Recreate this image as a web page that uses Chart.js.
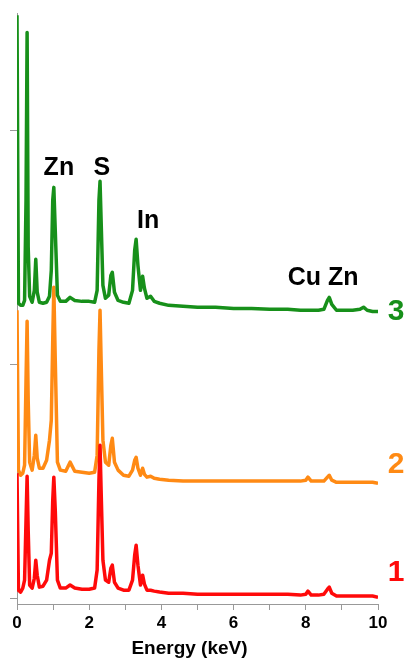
<!DOCTYPE html>
<html>
<head>
<meta charset="utf-8">
<script src="https://cdn.jsdelivr.net/npm/chart.js@4.4.0/dist/chart.umd.min.js"></script>
<style>
  html, body { margin: 0; padding: 0; background: #fff; }
  canvas { display: block; }
</style>
</head>
<body>
<canvas id="eds" width="408" height="660"></canvas>
<script>
// EDS spectra of three samples, stacked with a vertical offset (counts, a.u.)
const energy = [
  0, 0.04, 0.1, 0.16, 0.21, 0.25, 0.28, 0.31, 0.35, 0.42,
  0.48, 0.52, 0.56, 0.62, 0.72, 0.82, 0.9, 0.95, 0.99, 1.02,
  1.06, 1.12, 1.2, 1.35, 1.47, 1.6, 1.8, 2.0, 2.15, 2.22,
  2.27, 2.3, 2.33, 2.38, 2.45, 2.54, 2.6, 2.64, 2.7, 2.8,
  2.95, 3.1, 3.2, 3.26, 3.3, 3.35, 3.42, 3.48, 3.53, 3.6,
  3.7, 3.8, 3.95, 4.2, 4.6, 5.0, 5.5, 6.0, 6.5, 7.0,
  7.5, 7.85, 8.0, 8.06, 8.15, 8.35, 8.5, 8.6, 8.65, 8.72,
  8.85, 9.05, 9.3, 9.5, 9.6, 9.7, 9.85, 10.0
];

const sample3 = [
  2490, 1260, 1251, 1251, 1272, 1700, 2417, 1500, 1290, 1264,
  1315, 1448, 1307, 1264, 1260, 1264, 1290, 1400, 1700, 1755,
  1571, 1294, 1268, 1268, 1285, 1272, 1268, 1268, 1264, 1315,
  1700, 1781, 1614, 1336, 1281, 1294, 1379, 1392, 1307, 1272,
  1264, 1260, 1315, 1486, 1533, 1422, 1315, 1375, 1324, 1281,
  1290, 1268, 1260, 1251, 1247, 1243, 1243, 1238, 1238, 1234,
  1234, 1230, 1230, 1230, 1230, 1230, 1234, 1272, 1285, 1255,
  1230, 1230, 1230, 1234, 1243, 1230, 1225, 1225
];

const sample2 = [
  1230, 547, 525, 534, 568, 931, 1183, 845, 581, 547,
  611, 696, 598, 555, 555, 589, 675, 760, 1102, 1328,
  1016, 581, 547, 542, 581, 542, 538, 534, 538, 611,
  1059, 1230, 1016, 675, 581, 568, 653, 683, 581, 547,
  525, 521, 547, 589, 602, 555, 525, 555, 529, 517,
  521, 512, 508, 504, 500, 500, 500, 500, 500, 500,
  500, 500, 504, 517, 500, 500, 500, 517, 525, 504,
  495, 495, 495, 495, 495, 495, 495, 491
];

const sample1 = [
  534, 34, 26, 43, 77, 333, 521, 290, 56, 43,
  85, 162, 98, 47, 51, 77, 162, 192, 418, 517,
  376, 77, 43, 43, 56, 43, 38, 38, 43, 120,
  504, 653, 461, 162, 77, 68, 128, 141, 68, 43,
  34, 34, 77, 184, 226, 141, 56, 98, 60, 34,
  34, 30, 26, 21, 21, 17, 17, 17, 17, 17,
  17, 13, 17, 30, 13, 13, 17, 38, 47, 21,
  9, 9, 9, 9, 9, 9, 9, 4
];

const xTicks = [0, 2, 4, 6, 8, 10];

// element labels: text, energy (keV), counts at text baseline
const elementNames = ['Zn', 'S', 'In', 'Cu Zn'];
const elementEnergy = [1.16, 2.35, 3.63, 8.48];
const elementCounts = [1806, 1806, 1580, 1337];

// sample numbers at the right end of each trace
const sampleNames = ['3', '2', '1'];
const sampleCounts = [1187, 534, 73];

const GREEN = '#17901a';
const ORANGE = '#ff8a14';
const RED = '#ff0a0a';
const sampleColors = [GREEN, ORANGE, RED];
const FONT = 'Arial, "Liberation Sans", sans-serif';

const toPoints = vals => vals.map((v, i) => ({ x: energy[i], y: v }));

const labels = {
  id: 'labels',
  afterDraw(chart) {
    const { ctx } = chart;
    const x = chart.scales.x, y = chart.scales.y;
    ctx.save();
    ctx.textAlign = 'center';
    ctx.textBaseline = 'alphabetic';

    ctx.fillStyle = '#000';
    ctx.font = 'bold 25px ' + FONT;
    elementNames.forEach((t, i) => {
      ctx.fillText(t, x.getPixelForValue(elementEnergy[i]), y.getPixelForValue(elementCounts[i]));
    });

    ctx.font = 'bold 30px ' + FONT;
    sampleNames.forEach((t, i) => {
      ctx.fillStyle = sampleColors[i];
      ctx.fillText(t, x.getPixelForValue(10.5), y.getPixelForValue(sampleCounts[i]));
    });

    // axis title, a little left of the axis centre
    ctx.fillStyle = '#000';
    ctx.font = 'bold 19px ' + FONT;
    ctx.textBaseline = 'middle';
    ctx.fillText('Energy (keV)', (x.left + x.right) / 2 - 8, x.bottom - 11);
    ctx.restore();
  }
};

new Chart(document.getElementById('eds'), {
  type: 'line',
  data: {
    datasets: [
      { label: '3', data: toPoints(sample3), borderColor: GREEN, order: 0 },
      { label: '1', data: toPoints(sample1), borderColor: RED, order: 1 },
      { label: '2', data: toPoints(sample2), borderColor: ORANGE, order: 2 }
    ]
  },
  options: {
    responsive: false,
    animation: false,
    layout: { padding: { top: 13, right: 30, left: 0, bottom: 0 } },
    elements: {
      line: { borderWidth: 3.5, tension: 0, fill: false, borderJoinStyle: 'round' },
      point: { radius: 0, hoverRadius: 0 }
    },
    plugins: {
      legend: { display: false },
      tooltip: { enabled: false }
    },
    scales: {
      x: {
        type: 'linear',
        min: 0,
        max: 10,
        ticks: {
          stepSize: 1,
          padding: 3,
          color: '#000',
          font: { family: FONT, size: 17, weight: 'bold' },
          maxRotation: 0,
          callback: v => (xTicks.includes(v) ? v : '')
        },
        grid: { drawOnChartArea: false, drawTicks: true, tickLength: 6, color: '#999' },
        border: { color: '#999', width: 1 },
        afterFit: s => { s.height = 56; }
      },
      y: {
        min: -25,
        max: 2500,
        ticks: { display: false },
        afterBuildTicks: s => { s.ticks = [{ value: 0 }, { value: 1000 }, { value: 2000 }]; },
        grid: { drawOnChartArea: false, drawTicks: true, tickLength: 7, color: '#999' },
        border: { color: '#999', width: 1 },
        afterFit: s => { s.width = 17; }
      }
    }
  },
  plugins: [labels]
});
</script>
</body>
</html>
